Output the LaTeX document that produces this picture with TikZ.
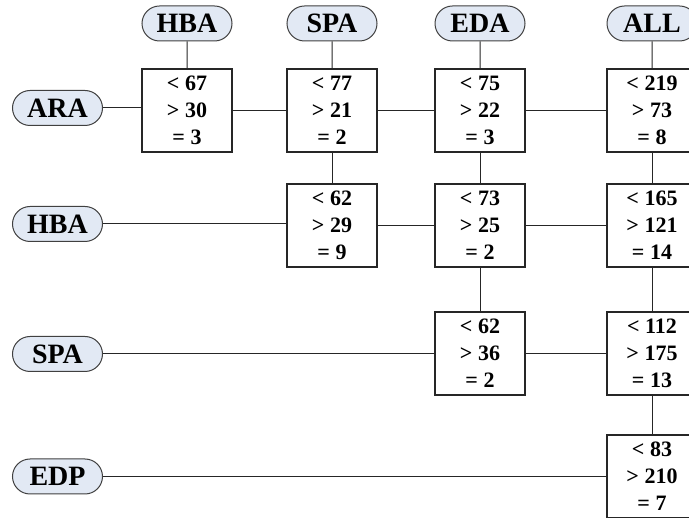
\documentclass[tikz,border=0pt]{standalone}
\usepackage{fontspec}
\setmainfont{Liberation Serif}
\usetikzlibrary{shapes.misc}
\definecolor{pillfill}{HTML}{E2E9F4}
\definecolor{pilldraw}{HTML}{404040}
\tikzset{
  pill/.style={rounded rectangle, draw=pilldraw, line width=1pt, fill=pillfill,
    minimum width=90pt, minimum height=35pt, inner sep=0pt,
    font=\fontsize{28}{30}\selectfont\bfseries},
  valbox/.style={rectangle, draw=black!85, line width=1.2pt, fill=white,
    minimum width=90pt, minimum height=83pt, inner sep=0pt, align=center,
    font=\fontsize{22}{27}\selectfont\bfseries},
  link/.style={draw=black!85, line width=1pt}
}
\begin{document}
\begin{tikzpicture}[x=1pt,y=-1pt]
\useasboundingbox (0,0) rectangle (689,518);
\clip (0,0) rectangle (689,518);
% column headers
\node[pill] (hHBA) at (187,23.5) {HBA};
\node[pill] (hSPA) at (332,23.5) {SPA};
\node[pill] (hEDA) at (480,23.5) {EDA};
\node[pill] (hALL) at (652,23.5) {ALL};
% row labels
\node[pill] (rARA) at (57.5,108) {ARA};
\node[pill] (rHBA) at (57.5,224) {HBA};
\node[pill] (rSPA) at (57.5,354) {SPA};
\node[pill] (rEDP) at (57.5,476.5) {EDP};
% boxes
\node[valbox] (b11) at (187,110.5) {< 67\\> 30\\= 3};
\node[valbox] (b12) at (332,110.5) {< 77\\> 21\\= 2};
\node[valbox] (b13) at (480,110.5) {< 75\\> 22\\= 3};
\node[valbox] (b14) at (652,110.5) {< 219\\> 73\\= 8};
\node[valbox] (b22) at (332,225.5) {< 62\\> 29\\= 9};
\node[valbox] (b23) at (480,225.5) {< 73\\> 25\\= 2};
\node[valbox] (b24) at (652,225.5) {< 165\\> 121\\= 14};
\node[valbox] (b33) at (480,353.5) {< 62\\> 36\\= 2};
\node[valbox] (b34) at (652,353.5) {< 112\\> 175\\= 13};
\node[valbox] (b44) at (652,476.5) {< 83\\> 210\\= 7};
% connectors
\path[link] (hHBA) -- (b11);
\path[link] (hSPA) -- (b12);
\path[link] (hEDA) -- (b13);
\path[link] (hALL) -- (b14);
\path[link] (rARA.east) -- (rARA.east -| b11.west);
\path[link] (b11) -- (b12);
\path[link] (b12) -- (b13);
\path[link] (b13) -- (b14);
\path[link] (b12) -- (b22);
\path[link] (b13) -- (b23);
\path[link] (b14) -- (b24);
\path[link] (rHBA.east) -- (rHBA.east -| b22.west);
\path[link] (b22) -- (b23);
\path[link] (b23) -- (b24);
\path[link] (b23) -- (b33);
\path[link] (b24) -- (b34);
\path[link] (rSPA.east) -- (rSPA.east -| b33.west);
\path[link] (b33) -- (b34);
\path[link] (b34) -- (b44);
\path[link] (rEDP.east) -- (rEDP.east -| b44.west);
\end{tikzpicture}
\end{document}
